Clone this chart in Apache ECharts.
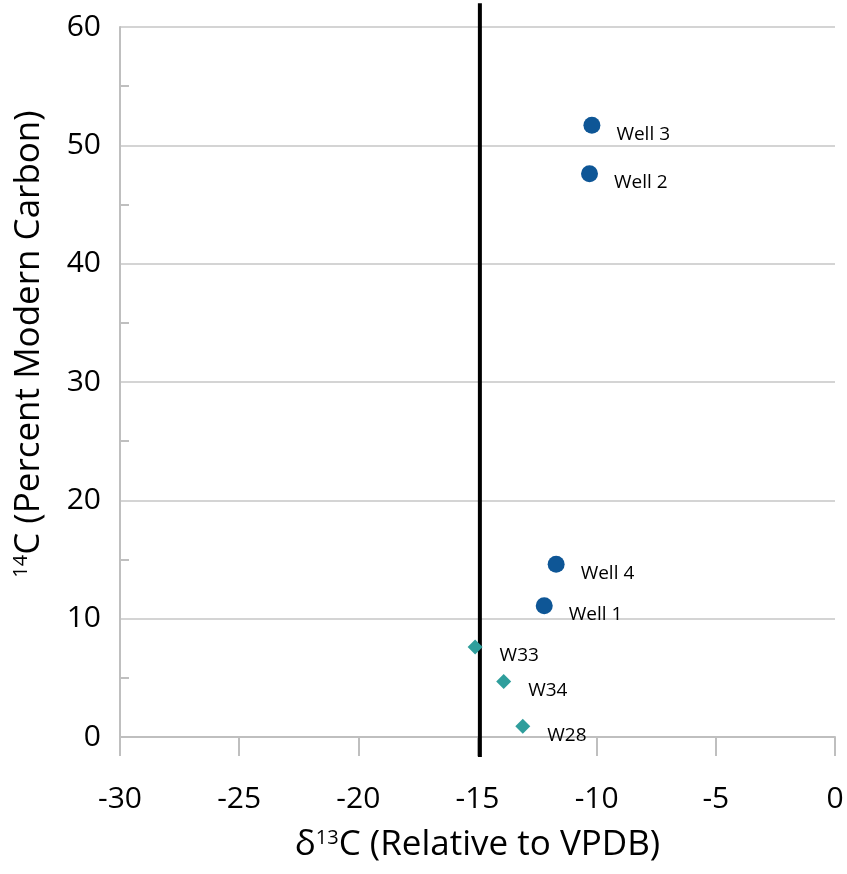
<!DOCTYPE html>
<html>
<head>
<meta charset="utf-8">
<script src="https://cdn.jsdelivr.net/npm/echarts@6/dist/echarts.min.js"></script>
<style>
  html, body { margin: 0; padding: 0; background: #fff; }
  #chart { width: 847px; height: 874px; }
</style>
</head>
<body>
<div id="chart"></div>
<script>
// wells (circles)
const wellNames = ['Well 1', 'Well 2', 'Well 3', 'Well 4'];
const wellD13C = [-12.2, -10.3, -10.2, -11.7];
const wellC14 = [11.1, 47.6, 51.7, 14.6];

// W samples (diamonds)
const wNames = ['W33', 'W34', 'W28'];
const wD13C = [-15.1, -13.9, -13.1];
const wC14 = [7.6, 4.7, 0.9];

// vertical reference line near -15
const refX = -14.9;
const refY = [-1.7, 62];

const xTicks = { min: -30, max: 0, interval: 5 };
const yTicks = { min: 0, max: 60, interval: 10 };

const FONT = '"Open Sans", "Noto Sans", sans-serif';

const chart = echarts.init(document.getElementById('chart'));

const toPoints = (xs, ys, names) => xs.map((x, i) => ({ value: [x, ys[i]], name: names[i] }));

const supStyle = { fontSize: 20, verticalAlign: 'top', padding: [0, 0, 13, 0], fontFamily: FONT, color: '#000' };

chart.setOption({
  animation: false,
  textStyle: { fontFamily: FONT },
  grid: { left: 120, right: 12, top: 27, bottom: 137 },
  xAxis: {
    type: 'value',
    min: xTicks.min,
    max: xTicks.max,
    interval: xTicks.interval,
    name: '\u03b4{sup|13}C (Relative to VPDB)',
    nameLocation: 'middle',
    nameGap: 91,
    nameTextStyle: {
      fontSize: 35,
      color: '#000',
      fontFamily: FONT,
      rich: { sup: supStyle }
    },
    axisLine: { onZero: false, lineStyle: { color: '#bfbfbf', width: 2 } },
    axisTick: { show: true, length: 19, lineStyle: { color: '#bfbfbf', width: 2 } },
    axisLabel: { fontSize: 30, color: '#000', margin: 47, fontFamily: FONT },
    splitLine: { show: false }
  },
  yAxis: {
    type: 'value',
    min: yTicks.min,
    max: yTicks.max,
    interval: yTicks.interval,
    axisLine: { show: true, onZero: false, lineStyle: { color: '#bfbfbf', width: 2 } },
    axisTick: { show: false, inside: true },
    minorTick: { show: true, splitNumber: 2, length: 9, lineStyle: { color: '#bfbfbf', width: 2 } },
    axisLabel: { fontSize: 30, color: '#000', margin: 19, fontFamily: FONT },
    splitLine: { show: true, lineStyle: { color: '#d4d4d4', width: 2 } }
  },
  graphic: [{
    type: 'text',
    x: 29,
    y: 344,
    rotation: Math.PI / 2,
    style: {
      text: '{sup|14}C (Percent Modern Carbon)',
      fontSize: 35,
      fontFamily: FONT,
      fill: '#000',
      align: 'center',
      verticalAlign: 'middle',
      rich: { sup: supStyle }
    }
  }],
  series: [
    {
      type: 'line',
      data: [[refX, refY[0]], [refX, refY[1]]],
      clip: false,
      symbol: 'none',
      lineStyle: { color: '#000', width: 4 },
      z: 1
    },
    {
      type: 'scatter',
      data: toPoints(wellD13C, wellC14, wellNames),
      symbol: 'circle',
      symbolSize: 17,
      itemStyle: { color: '#0e5696', opacity: 1 },
      label: {
        show: true,
        position: 'right',
        distance: 0,
        offset: [16, 9],
        formatter: '{b}',
        fontSize: 19,
        color: '#000',
        fontFamily: FONT
      },
      z: 3
    },
    {
      type: 'scatter',
      data: toPoints(wD13C, wC14, wNames),
      symbol: 'diamond',
      symbolSize: 15,
      itemStyle: { color: '#2f9e9c', opacity: 1 },
      label: {
        show: true,
        position: 'right',
        distance: 0,
        offset: [17, 9],
        formatter: '{b}',
        fontSize: 19,
        color: '#000',
        fontFamily: FONT
      },
      z: 3
    }
  ]
});
</script>
</body>
</html>
